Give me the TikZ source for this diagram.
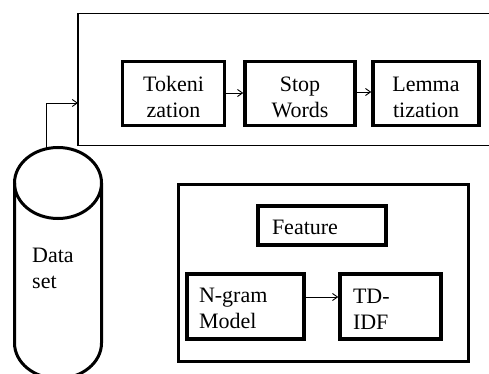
\documentclass[tikz,border=0pt]{standalone}
\usepackage{fontspec}
\setmainfont{Liberation Serif}
\usetikzlibrary{arrows.meta}
\begin{document}
\begin{tikzpicture}[x=1pt,y=-1pt,
  every node/.style={font=\fontsize{22pt}{26pt}\selectfont},
  stepbox/.style={draw,line width=3.5pt,minimum height=64pt,align=center,inner sep=0pt,text height=49pt,text depth=0pt},
  leftbox/.style={draw,line width=3.5pt,align=left,inner ysep=0pt},
  flow/.style={line width=0.9pt,-{Straight Barb[length=5pt,width=7pt]}}]
\useasboundingbox (0,0) rectangle (489,374);
\clip (0,0) rectangle (489,374);

% preprocessing frame (open towards the right)
\draw[line width=1.3pt] (495,13.5) -| (78,145.5) -- (495,145.5);
\coordinate (prein) at (78,103);

% preprocessing steps
\node[stepbox,minimum width=102pt] (tok) at (173.5,93.5) {Tokeni\\zation};
\node[stepbox,minimum width=110pt] (stop) at (300,93.5) {Stop\\Words};
\node[stepbox,minimum width=106pt] (lem) at (426,93.5) {Lemma\\tization};
\draw[flow] (tok.east |- 0,93) -- (stop.west |- 0,93);
\draw[flow] (stop.east |- 0,92) -- (lem.west |- 0,92);

% data set cylinder
\draw[line width=3pt] (58,183) ellipse [x radius=43.5, y radius=35.5];
\draw[line width=3pt] (14.5,183) -- (14.5,343) arc [start angle=180, end angle=0, x radius=43.5, y radius=35.5] -- (101.5,183);
\node[align=left,anchor=base west,inner sep=0pt] (data) at (32,288) {Data\\set};
\coordinate (dstop) at (46,148.5);
\draw[flow] (dstop) |- (prein);

% feature extraction group
\node[draw,line width=3pt,minimum width=290pt,minimum height=177pt,inner sep=0pt] (fgroup) at (323.5,273) {};
\node[leftbox,inner xsep=14pt,text width=100pt,minimum height=39pt,text height=17pt,text depth=0pt] (feat) at (322,225.5) {Feature};
\node[leftbox,inner xsep=12pt,text width=93pt,minimum height=65pt,text height=19pt] (ngram) at (245.5,306.5) {N-gram\\Model};
\node[leftbox,inner xsep=13pt,text width=75pt,minimum height=65pt,text height=20pt] (tdidf) at (390.5,306.5) {TD-\\IDF};
\draw[flow] (ngram.east |- 0,297) -- (tdidf.west |- 0,297);
\end{tikzpicture}
\end{document}
